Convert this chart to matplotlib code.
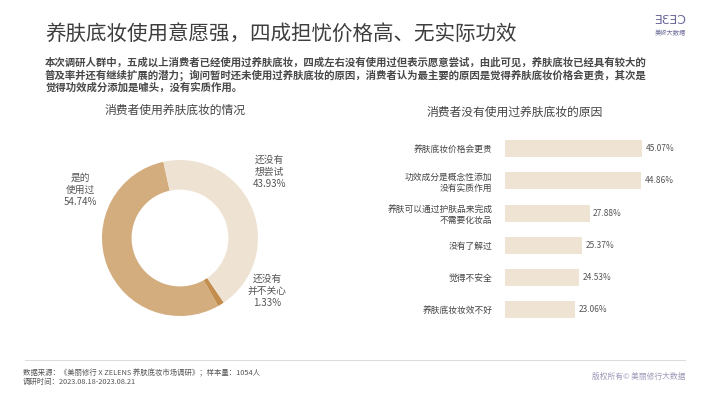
import numpy as np
import matplotlib
matplotlib.use("Agg")
import matplotlib.pyplot as plt
from matplotlib.lines import Line2D

plt.rcParams['font.family'] = ['Noto Sans CJK SC', 'DejaVu Sans']

# 数据
title = "养肤底妆使用意愿强，四成担忧价格高、无实际功效"
intro = ["本次调研人群中，五成以上消费者已经使用过养肤底妆，四成左右没有使用过但表示愿意尝试，由此可见，养肤底妆已经具有较大的",
         "普及率并还有继续扩展的潜力；询问暂时还未使用过养肤底妆的原因，消费者认为最主要的原因是觉得养肤底妆价格会更贵，其次是",
         "觉得功效成分添加是噱头，没有实质作用。"]

pie_title = "消费者使用养肤底妆的情况"
pie_labels = ["是的\n使用过", "还没有\n并不关心", "还没有\n想尝试"]
pie_values = [54.74, 1.33, 43.93]
pie_colors = ["#d4ad7f", "#c38d4e", "#eee3d3"]

bar_title = "消费者没有使用过养肤底妆的原因"
bar_labels = ["养肤底妆价格会更贵", "功效成分是概念性添加\n没有实质作用", "养肤可以通过护肤品来完成\n不需要化妆品",
              "没有了解过", "觉得不安全", "养肤底妆妆效不好"]
bar_values = [45.07, 44.86, 27.88, 25.37, 24.53, 23.06]

footer_src = "数据来源：《美丽修行 X ZELENS 养肤底妆市场调研》；样本量：1054人"
footer_time = "调研时间：2023.08.18-2023.08.21"
footer_right = "版权所有© 美丽修行大数据"

W, H = 710, 399
fig = plt.figure(figsize=(W / 100, H / 100), dpi=100)
fig.patch.set_facecolor("white")

def fx(px):
    return px / W

def fy(py):
    return 1 - py / H

# 标题和说明
fig.text(fx(45), fy(34), title, fontsize=14.8, color="#3d3d3d", va="center", ha="left")
for i, line in enumerate(intro):
    fig.text(fx(45), fy(62 + i * 13), line, fontsize=7.5, color="#484848",
             va="center", ha="left", fontweight="bold")

# logo
fig.text(fx(670), fy(20), "ƎƐƎƆ", fontsize=9, color="#6b6b9a", ha="center", va="center",
         family="DejaVu Sans")
fig.text(fx(670), fy(33), "美修大数据", fontsize=4.5, color="#6b6b9a", ha="center", va="center")

# 环形图
cx, cy, r = 180, 238, 80
ax1 = fig.add_axes([fx(cx - r), fy(cy + r), 2 * r / W, 2 * r / H])
ax1.pie(pie_values, colors=pie_colors, startangle=102.3, counterclock=True, radius=0.975,
        wedgeprops=dict(width=0.37, edgecolor="none"))
ax1.set_xlim(-1, 1)
ax1.set_ylim(-1, 1)
ax1.set_aspect("auto")
ax1.axis("off")

label_pos = [(-1.25, 0.6), (1.09, -0.66), (1.12, 0.83)]
for lab, val, (x, y) in zip(pie_labels, pie_values, label_pos):
    ax1.text(x, y, f"{lab}\n{val:.2f}%", fontsize=7, color="#555555", ha="center", va="center",
             linespacing=1.25)

fig.text(fx(175), fy(110), pie_title, fontsize=8.5, color="#444444", ha="center", va="center")

# 条形图
ax2 = fig.add_axes([fx(505), fy(326), (687 - 505) / W, (326 - 132.5) / H])
y = np.arange(len(bar_values))
ax2.barh(y, bar_values, height=0.52, color="#efe3d4")
ax2.set_xlim(0, 60)
ax2.set_ylim(len(bar_values) - 0.5, -0.5)
for yi, v in zip(y, bar_values):
    ax2.text(v + 1.2, yi, f"{v:.2f}%", fontsize=6, color="#555555", va="center", ha="left")
ax2.set_yticks(y)
ax2.set_yticklabels(bar_labels, fontsize=6.3, color="#444444", linespacing=1.3)
ax2.tick_params(axis="y", length=0, pad=9)
ax2.set_xticks([])
for s in ax2.spines.values():
    s.set_visible(False)

fig.text(fx(515), fy(112), bar_title, fontsize=8.5, color="#444444", ha="center", va="center")

# 页脚
fig.add_artist(Line2D([fx(25), fx(685)], [fy(360), fy(360)], color="#dddddd", lw=0.8))
fig.text(fx(23), fy(373), footer_src, fontsize=5.3, color="#555555", ha="left", va="center")
fig.text(fx(23), fy(382), footer_time, fontsize=5.3, color="#555555", ha="left", va="center")
fig.text(fx(685), fy(377), footer_right, fontsize=5.6, color="#9b98b8", ha="right", va="center")

fig.savefig("out.png", dpi=100, facecolor="white")
